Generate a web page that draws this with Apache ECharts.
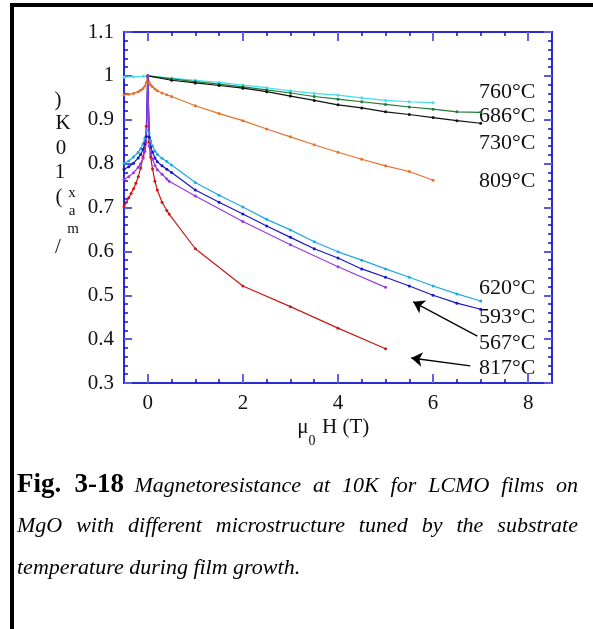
<!DOCTYPE html>
<html>
<head>
<meta charset="utf-8">
<script src="https://cdn.jsdelivr.net/npm/echarts@6.0.0/dist/echarts.min.js"></script>
<style>
body{margin:0;background:#fff;}
#frame{position:absolute;left:10px;top:3px;width:583px;height:626px;border-left:4px solid #000;border-top:4px solid #000;box-sizing:border-box;}
#main{position:absolute;left:0;top:0;width:593px;height:629px;}
#caption{position:absolute;left:17px;top:462px;width:561px;font-family:'Liberation Serif','Times New Roman',serif;color:#000;}
#caption div{height:42px;line-height:42px;}
#caption .j{text-align:justify;text-align-last:justify;}
#caption b{font-size:27px;}
#caption i{font-size:22px;}
</style>
</head>
<body>
<div id="frame"></div>
<div id="main"></div>
<div id="caption">
  <div class="j"><b>Fig. 3-18</b> <i>Magnetoresistance at 10K for LCMO films on</i></div>
  <div class="j"><i>MgO with different microstructure tuned by the substrate</i></div>
  <div><i>temperature during film growth.</i></div>
</div>
<script>
// 磁场 (T) 与 归一化电阻, 每个衬底温度一组
var h760 = [-0.5, -0.3, -0.1, 0, 0.5, 1, 1.5, 2, 2.5, 3, 3.5, 4, 4.5, 5, 5.5, 6];
var r760 = [0.997, 0.998, 0.999, 1.0, 0.995, 0.990, 0.985, 0.979, 0.973, 0.966, 0.960, 0.956, 0.950, 0.944, 0.941, 0.939];

var h686 = [0, 0.5, 1, 1.5, 2, 2.5, 3, 3.5, 4, 4.5, 5, 5.5, 6, 6.5, 7];
var r686 = [1.0, 0.993, 0.987, 0.981, 0.975, 0.968, 0.961, 0.953, 0.947, 0.941, 0.935, 0.929, 0.924, 0.918, 0.917];

var h730 = [0, 0.5, 1, 1.5, 2, 2.5, 3, 3.5, 4, 4.5, 5, 5.5, 6, 6.5, 7];
var r730 = [1.0, 0.990, 0.984, 0.978, 0.972, 0.964, 0.954, 0.944, 0.934, 0.927, 0.918, 0.912, 0.905, 0.898, 0.892];

var h809 = [-0.5, -0.4, -0.3, -0.2, -0.15, -0.1, -0.06, -0.03, 0, 0.03, 0.06, 0.1, 0.15, 0.2, 0.3, 0.4, 0.5,
            1, 1.5, 2, 2.5, 3, 3.5, 4, 4.5, 5, 5.5, 6];
var r809 = [0.957, 0.958, 0.960, 0.964, 0.967, 0.971, 0.977, 0.985, 1.0, 0.985, 0.979, 0.975, 0.970, 0.966, 0.961, 0.957, 0.953,
            0.932, 0.914, 0.898, 0.879, 0.861, 0.843, 0.826, 0.810, 0.795, 0.782, 0.762];

var h620 = [-0.5, -0.4, -0.3, -0.2, -0.15, -0.1, -0.06, -0.03, 0, 0.03, 0.06, 0.1, 0.15, 0.2, 0.3, 0.4, 0.5,
            1, 1.5, 2, 2.5, 3, 3.5, 4, 4.5, 5, 5.5, 6, 6.5, 7];
var r620 = [0.801, 0.806, 0.815, 0.826, 0.834, 0.845, 0.858, 0.875, 1.0, 0.870, 0.852, 0.840, 0.829, 0.821, 0.812, 0.805, 0.797,
            0.757, 0.728, 0.701, 0.673, 0.649, 0.622, 0.599, 0.580, 0.560, 0.541, 0.521, 0.503, 0.487];

var h593 = [-0.5, -0.4, -0.3, -0.2, -0.15, -0.1, -0.06, -0.03, 0, 0.03, 0.06, 0.1, 0.15, 0.2, 0.3, 0.4, 0.5,
            1, 1.5, 2, 2.5, 3, 3.5, 4, 4.5, 5, 5.5, 6, 6.5, 7];
var r593 = [0.787, 0.793, 0.801, 0.813, 0.821, 0.832, 0.846, 0.862, 1.0, 0.860, 0.838, 0.826, 0.813, 0.804, 0.795, 0.787, 0.780,
            0.740, 0.712, 0.685, 0.658, 0.632, 0.606, 0.585, 0.560, 0.541, 0.521, 0.500, 0.482, 0.468];

var h567 = [-0.5, -0.4, -0.3, -0.2, -0.15, -0.1, -0.06, -0.03, 0, 0.03, 0.06, 0.1, 0.15, 0.2, 0.3, 0.4, 0.45,
            1, 2, 3, 4, 5];
var r567 = [0.764, 0.770, 0.779, 0.792, 0.800, 0.812, 0.828, 0.848, 1.0, 0.840, 0.822, 0.810, 0.796, 0.786, 0.776, 0.765, 0.760,
            0.726, 0.668, 0.615, 0.565, 0.518];

var h817 = [-0.5, -0.45, -0.4, -0.35, -0.3, -0.25, -0.2, -0.15, -0.1, -0.06, -0.03, 0, 0.03, 0.06, 0.1, 0.15, 0.2, 0.3, 0.4, 0.45,
            1, 2, 3, 4, 5];
var r817 = [0.702, 0.712, 0.722, 0.732, 0.743, 0.755, 0.770, 0.790, 0.815, 0.845, 0.885, 1.0, 0.850, 0.815, 0.788, 0.760, 0.740, 0.712, 0.693, 0.685,
            0.606, 0.521, 0.474, 0.425, 0.378];

// 刻度
var xMajorTicks = [0, 2, 4, 6, 8];
var xMinorTicks = [0.5, 1, 1.5, 2.5, 3, 3.5, 4.5, 5, 5.5, 6.5, 7, 7.5];

// 箭头 (数据坐标)
var arrow567 = [[6.93, 0.407], [5.58, 0.485]];
var arrow817 = [[6.78, 0.339], [5.54, 0.357]];

var serif = "'Liberation Serif', 'Times New Roman', serif";
var axisBlue = '#2a2ad6';

function curve(h, r, color) {
  return {
    type: 'line',
    data: h.map(function (v, i) { return [v, r[i]]; }),
    symbol: 'circle',
    symbolSize: 3,
    showSymbol: true,
    lineStyle: { color: color, width: 1.2 },
    itemStyle: { color: color },
    animation: false
  };
}

function xAx(pos, ticks, len, col, w, labels) {
  return {
    type: 'value', position: pos, min: -0.5, max: 8.5,
    axisLine: { show: true, onZero: false, lineStyle: { color: axisBlue, width: 2 } },
    axisTick: { show: true, inside: true, length: len, customValues: ticks, lineStyle: { color: col, width: w } },
    axisLabel: labels ? { show: true, customValues: xMajorTicks, color: '#111', fontFamily: serif, fontSize: 21, margin: 10 } : { show: false },
    splitLine: { show: false }
  };
}

function yAx(pos, labels) {
  return {
    type: 'value', position: pos, min: 0.3, max: 1.1, interval: 0.1,
    axisLine: { show: true, onZero: false, lineStyle: { color: axisBlue, width: 2 } },
    axisTick: { show: true, inside: true, length: 8, lineStyle: { color: '#5a5ae0', width: 2 } },
    minorTick: { show: true, splitNumber: 5, length: 4, lineStyle: { color: '#1010c8', width: 1.5 } },
    axisLabel: labels ? { show: true, color: '#111', fontFamily: serif, fontSize: 21, margin: 10 } : { show: false },
    splitLine: { show: false }, minorSplitLine: { show: false }
  };
}

function txt(x, y, s, size, align) {
  return { type: 'text', x: x, y: y, style: { text: s, fill: '#111', font: size + 'px ' + serif, textAlign: align || 'center', textVerticalAlign: 'middle' } };
}

var tempLabels = [['760°C', 92], ['686°C', 116], ['730°C', 143], ['809°C', 181], ['620°C', 288], ['593°C', 317], ['567°C', 343], ['817°C', 368]];

var graphics = [
  txt(58, 100, ')', 21), txt(63, 123, 'K', 21), txt(61, 148, '0', 21), txt(60, 172, '1', 21), txt(59, 197, '(', 21),
  txt(72, 193, 'x', 15), txt(72, 211, 'a', 15), txt(73, 229, 'm', 15), txt(58, 247, '/', 21),
  txt(303, 427, 'μ', 21), txt(312, 441, '0', 14), txt(322, 427, 'H (T)', 21, 'left')
];
tempLabels.forEach(function (t) { graphics.push(txt(479, t[1], t[0], 22, 'left')); });

var option = {
  backgroundColor: 'transparent',
  animation: false,
  grid: { left: 124, right: 41, top: 32, bottom: 246 },
  xAxis: [
    xAx('bottom', xMinorTicks, 4, '#1010c8', 1.5, true),
    xAx('top', xMinorTicks, 4, '#1010c8', 1.5, false),
    xAx('bottom', xMajorTicks, 9, '#6262e2', 2, false),
    xAx('top', xMajorTicks, 9, '#6262e2', 2, false)
  ],
  yAxis: [yAx('left', true), yAx('right', false)],
  series: [
    curve(h760, r760, '#3ee0ea'),
    curve(h686, r686, '#1e7a36'),
    curve(h730, r730, '#111111'),
    curve(h809, r809, '#e8702a'),
    curve(h817, r817, '#c81818'),
    curve(h620, r620, '#1eaae0'),
    curve(h593, r593, '#1616c8'),
    curve(h567, r567, '#9a38e0'),
    {
      type: 'lines', coordinateSystem: 'cartesian2d',
      symbol: ['none', 'arrow'], symbolSize: 11,
      lineStyle: { color: '#000', width: 1.3, opacity: 1, curveness: 0 },
      data: [{ coords: arrow567 }, { coords: arrow817 }],
      animation: false
    }
  ],
  graphic: graphics
};

var myChart = echarts.init(document.getElementById('main'));
myChart.setOption(option);
</script>
</body>
</html>
